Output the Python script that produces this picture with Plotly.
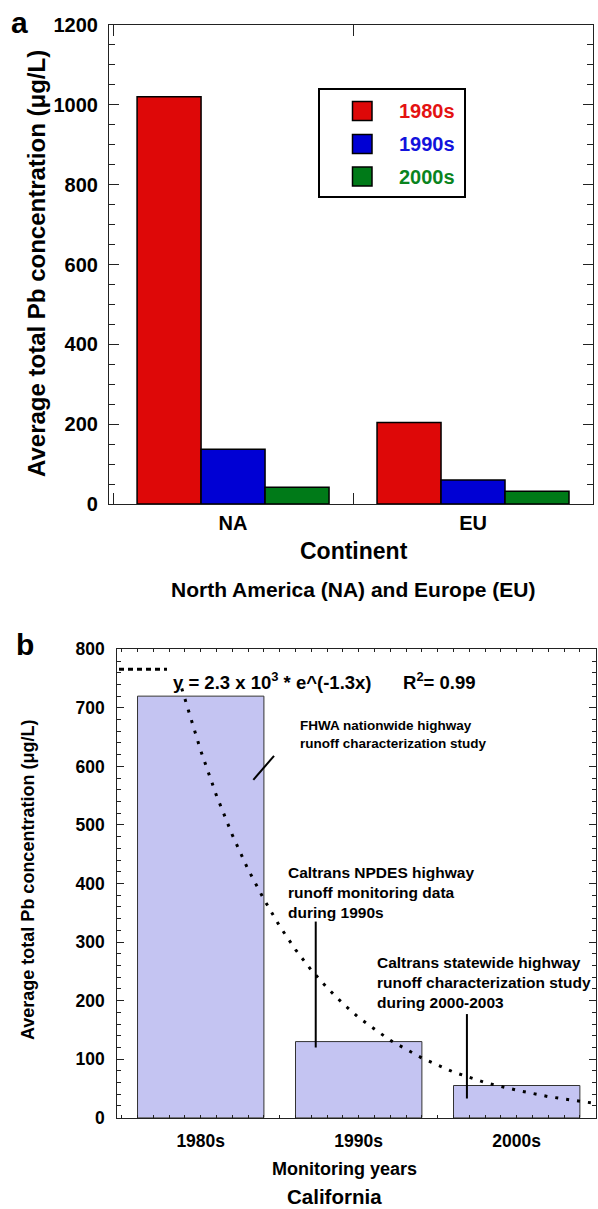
import plotly.graph_objects as go

W, H = 598, 1209
FONT = "Liberation Sans, Arial, sans-serif"

# ---------------- data ----------------
continents = ["NA", "EU"]
decades = ["1980s", "1990s", "2000s"]
pb_1980s = [1020, 204]
pb_1990s = [137, 60]
pb_2000s = [42, 32]

ca_decades = ["1980s", "1990s", "2000s"]
ca_pb = [720, 130, 55]

# dotted fitted curve (x in decade-index units, 0 = 1980s)
fit_x = [-0.12, 0.0, 0.1, 0.2, 0.3, 0.4, 0.5, 0.6, 0.7, 0.8, 0.9, 1.0,
         1.2, 1.4, 1.6, 1.8, 2.0, 2.2, 2.48]
fit_y = [733, 627, 550, 483, 424, 373, 327, 287, 252, 222, 195, 171,
         132, 102, 78, 60, 47, 36, 25]

# ---------------- styles ----------------
bar_colors = ["rgb(222,8,8)", "rgb(0,0,212)", "rgb(0,122,24)"]
text_colors = ["rgb(228,18,18)", "rgb(18,18,220)", "rgb(10,132,30)"]
ca_color = "rgb(196,196,242)"
AX = "#222"


def px(x):
    return x / W


def py(y):
    return 1 - y / H


fig = go.Figure()

series = [pb_1980s, pb_1990s, pb_2000s]
for name, vals, col in zip(decades, series, bar_colors):
    fig.add_trace(go.Bar(
        x=list(range(len(continents))), y=vals, name=name,
        marker=dict(color=col, line=dict(color="black", width=1.5)),
        xaxis="x", yaxis="y", showlegend=False))

fig.add_trace(go.Bar(
    x=list(range(len(ca_decades))), y=ca_pb, width=0.8,
    marker=dict(color=ca_color, line=dict(color="#333", width=1)),
    xaxis="x2", yaxis="y2", showlegend=False))

fig.add_trace(go.Scatter(
    x=fit_x, y=fit_y, mode="lines",
    line=dict(color="black", width=3, dash="3px,8px"),
    xaxis="x2", yaxis="y2", showlegend=False))

common_ax = dict(showline=True, linecolor=AX, linewidth=1.2, showgrid=False,
                 zeroline=False, tickcolor=AX, tickwidth=1, automargin=False)

fig.update_layout(
    template="none",
    width=W, height=H, margin=dict(l=0, r=0, t=0, b=0, autoexpand=False),
    paper_bgcolor="white", plot_bgcolor="white",
    barmode="group", bargap=0.2, bargroupgap=0,
    showlegend=False,
    font=dict(family=FONT, color="black"),
    xaxis=dict(common_ax, domain=[px(109), px(593)], anchor="y",
               range=[-0.517, 1.5], tickmode="array",
               tickvals=list(range(len(continents))), ticktext=continents,
               ticks="inside", ticklen=0, mirror="allticks",
               tickfont=dict(size=20, family=FONT, weight="bold"),
               ticklabelstandoff=1,
               minor=dict(ticks="inside", tickmode="array",
                          tickvals=[-0.5, 0.5, 1.5], ticklen=11,
                          tickcolor=AX, showgrid=False)),
    yaxis=dict(common_ax, domain=[py(504), py(25)], anchor="x",
               range=[0, 1200], dtick=200, ticks="inside", ticklen=10,
               mirror="allticks",
               tickfont=dict(size=20, family=FONT, weight="bold"),
               ticklabelstandoff=6,
               minor=dict(ticks="inside", dtick=50, ticklen=6,
                          tickcolor=AX, showgrid=False)),
    xaxis2=dict(common_ax, domain=[px(117.3), px(596)], anchor="y2",
                range=[-0.528, 2.502], tickmode="array",
                tickvals=list(range(len(ca_decades))), ticktext=ca_decades,
                ticks="inside", ticklen=3, mirror="allticks",
                tickfont=dict(size=17.5, family=FONT, weight="bold"),
                ticklabelstandoff=7,
                minor=dict(ticks="inside", dtick=0.1, tick0=0, ticklen=3,
                           tickcolor=AX, showgrid=False)),
    xaxis3=dict(overlaying="x2", anchor="y2", range=[-0.528, 2.502],
                showline=False, showgrid=False, zeroline=False,
                automargin=False,
                tickmode="array", tickvals=[-0.5, 0.5, 1.5],
                ticks="inside", ticklen=7, tickcolor=AX, tickwidth=1,
                showticklabels=False, mirror="allticks"),
    yaxis2=dict(common_ax, domain=[py(1117.7), py(649.3)], anchor="x2",
                range=[0, 800], dtick=100, ticks="inside", ticklen=7,
                mirror="allticks",
                tickfont=dict(size=17.5, family=FONT, weight="bold"),
                ticklabelstandoff=8,
                minor=dict(ticks="inside", dtick=20, ticklen=4,
                           tickcolor=AX, showgrid=False)),
)

shapes = []
annotations = []


def text(x, y, s, size, color="black", xanchor="center", yanchor="middle",
         angle=0, align="center"):
    annotations.append(dict(
        xref="paper", yref="paper", x=px(x), y=py(y), text=s,
        showarrow=False, xanchor=xanchor, yanchor=yanchor, textangle=angle,
        align=align,
        font=dict(family=FONT, size=size, color=color, weight="bold")))


# panel labels
text(19.5, 23, "a", 30)
text(25, 644, "b", 30)

# panel a: axis titles
text(36, 264, "Average total Pb concentration (\u03bcg/L)", 24, angle=-90)
text(354, 551, "Continent", 23)
text(353, 589, "North America (NA) and Europe (EU)", 21)

# panel a: legend
shapes.append(dict(type="rect", xref="paper", yref="paper",
                   x0=px(319), x1=px(465), y0=py(197), y1=py(89),
                   line=dict(color="black", width=2), fillcolor="white",
                   layer="above"))
leg_y = [111, 144, 176.5]
for name, col, tcol, yy in zip(decades, bar_colors, text_colors, leg_y):
    shapes.append(dict(type="rect", xref="paper", yref="paper",
                       x0=px(352.5), x1=px(372), y0=py(yy + 9.5), y1=py(yy - 9.5),
                       line=dict(color="black", width=1.5), fillcolor=col,
                       layer="above"))
    text(397, yy, name, 20, color=tcol, xanchor="left")

# panel b: axis titles
text(28, 880, "Average total Pb concentration (\u03bcg/L)", 18, angle=-90)
text(345, 1169, "Monitoring years", 18)
text(334, 1196, "California", 20.5)

# panel b: fit legend
shapes.append(dict(type="line", xref="paper", yref="paper",
                   x0=px(119), x1=px(167), y0=py(669.3), y1=py(669.3),
                   line=dict(color="black", width=3, dash="5px,4px")))
text(171, 681, "y = 2.3 x 10<sup>3</sup> * e^(-1.3x)", 18.5, xanchor="left")
text(401, 681, "R<sup>2</sup>= 0.99", 18.5, xanchor="left")

# panel b: source annotations
text(298, 734.5, "FHWA nationwide highway<br>runoff characterization study",
     13.5, xanchor="left", align="left")
text(286, 892, "Caltrans NPDES highway<br>runoff monitoring data<br>during 1990s",
     15.5, xanchor="left", align="left")
text(375, 982, "Caltrans statewide highway<br>runoff characterization study<br>during 2000-2003",
     15.5, xanchor="left", align="left")

# leader lines (data coordinates of panel b)
for (x0, y0, x1, y1) in [(0.464, 618, 0.333, 577),
                         (0.728, 335, 0.728, 120),
                         (1.685, 177, 1.685, 33)]:
    shapes.append(dict(type="line", xref="x2", yref="y2",
                       x0=x0, y0=y0, x1=x1, y1=y1,
                       line=dict(color="black", width=2)))

fig.update_layout(shapes=shapes, annotations=annotations)
fig.write_html(
    "out.html",
    config={"displayModeBar": False},
    post_script="document.documentElement.style.margin='0';"
                "document.body.style.margin='0';"
                "document.body.style.overflow='hidden';")
